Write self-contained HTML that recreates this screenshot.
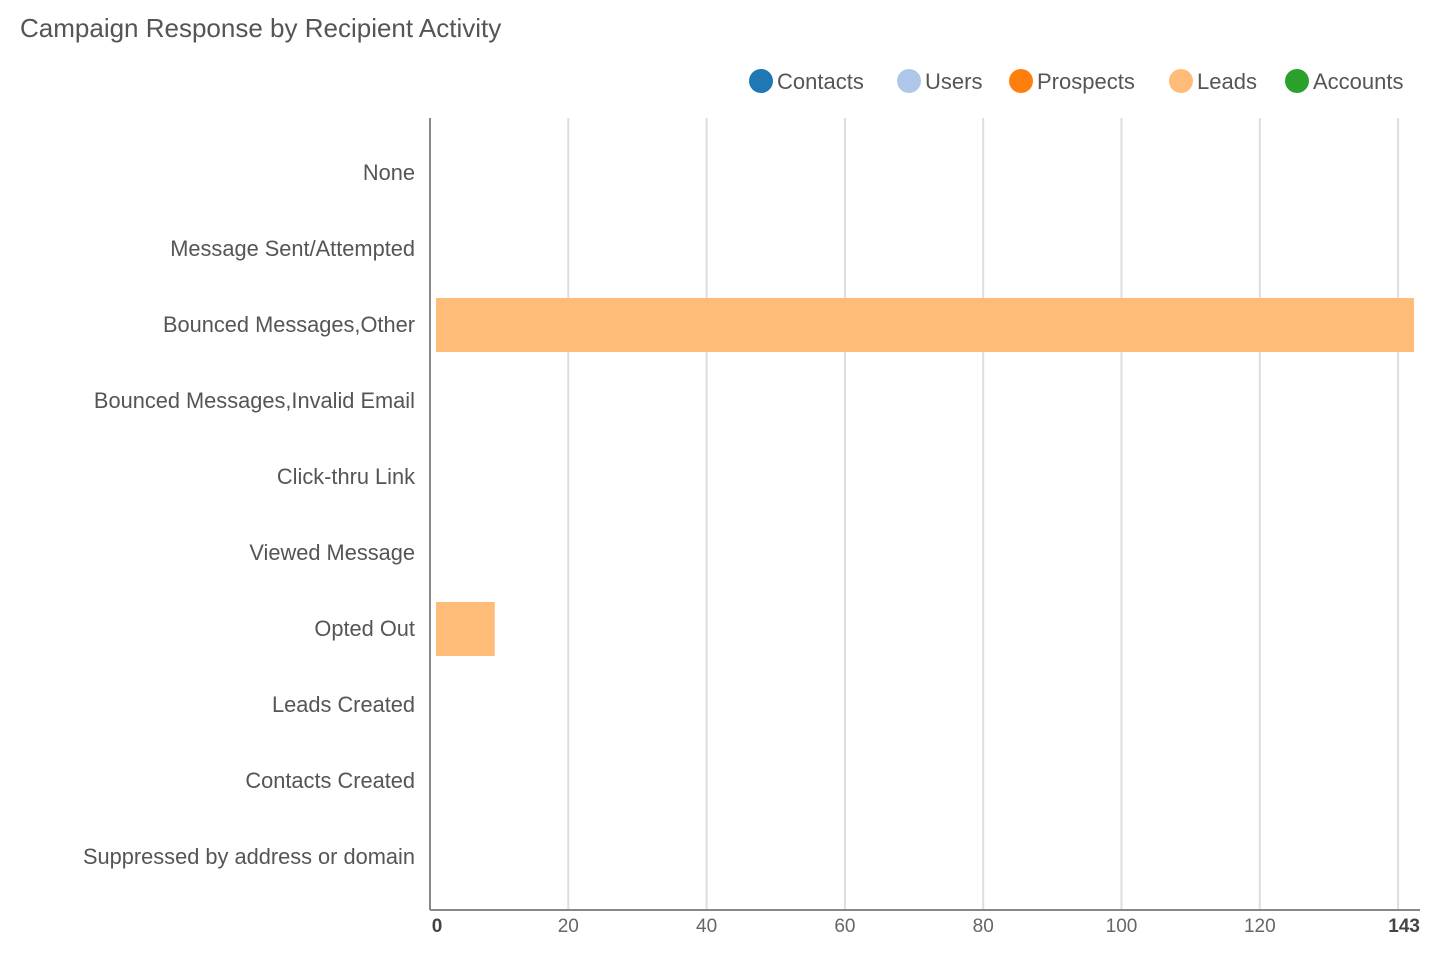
<!DOCTYPE html>
<html><head><meta charset="utf-8"><style>
body{margin:0;background:#fff;font-family:"Liberation Sans",sans-serif;}
</style></head><body>
<svg width="1440" height="960" xmlns="http://www.w3.org/2000/svg" font-family="Liberation Sans, sans-serif">
<text x="20" y="37" font-size="26" fill="#555">Campaign Response by Recipient Activity</text>
<g id="legend"></g>
<g id="grid"></g>
<g id="bars"></g>
<g id="ylabels"></g>
<g id="xlabels"></g>
<line x1="430" y1="118" x2="430" y2="910" stroke="#888" stroke-width="2"/>
<line x1="430" y1="910" x2="1420" y2="910" stroke="#888" stroke-width="2"/>
</svg>
<script>
const categories=["None","Message Sent/Attempted","Bounced Messages,Other","Bounced Messages,Invalid Email","Click-thru Link","Viewed Message","Opted Out","Leads Created","Contacts Created","Suppressed by address or domain"];
const leadsValues=[0,0,143,0,0,0,9,0,0,0];
const tickValues=[20,40,60,80,100,120,140];
const tickLabels=["0","20","40","60","80","100","120","143"];
const tickLabelValues=[0,20,40,60,80,100,120,140];
const seriesNames=["Contacts","Users","Prospects","Leads","Accounts"];
const seriesColors=["#1f77b4","#aec7e8","#ff7f0e","#ffbb78","#2ca02c"];
const NS="http://www.w3.org/2000/svg";
const xs=v=>430+v*6.915;
const yc=i=>172+76*i;
function mk(t,a,p){const e=document.createElementNS(NS,t);for(const k in a)e.setAttribute(k,a[k]);p.appendChild(e);return e;}
const grid=document.getElementById('grid');
tickValues.forEach(v=>{const l=mk('line',{x1:xs(v),x2:xs(v),y1:118,y2:910,stroke:'#ddd','stroke-width':2},grid);

});
const bars=document.getElementById('bars');
leadsValues.forEach((v,i)=>{if(v<=0)return;const r=mk('rect',{x:xs(0)+6,y:yc(i)-26,width:(xs(v)-xs(0))*0.992-3,height:54,fill:'#ffbb78'},bars);

});
const yl=document.getElementById('ylabels');
categories.forEach((c,i)=>{const t=mk('text',{x:415,y:yc(i)+8,'text-anchor':'end','font-size':21.8,fill:'#555'},yl);t.textContent=c;

});
const xl=document.getElementById('xlabels');
tickLabels.forEach((s,i)=>{const last=i===tickLabels.length-1,first=i===0;
const x=first?437:last?1420:xs(tickLabelValues[i]);
const t=mk('text',{x:x,y:932,'text-anchor':first?'middle':last?'end':'middle','font-size':19,fill:(first||last)?'#444':'#666','font-weight':(first||last)?'bold':'normal'},xl);t.textContent=s;

});
const lg=document.getElementById('legend');
const lx=[761,909,1021,1181,1297];
seriesNames.forEach((n,i)=>{const g=mk('g',{},lg);


mk('circle',{cx:lx[i],cy:81,r:12,fill:seriesColors[i]},g);
const t=mk('text',{x:lx[i]+16,y:89,'font-size':22,fill:'#555'},g);t.textContent=n;});
</script>
</body></html>
